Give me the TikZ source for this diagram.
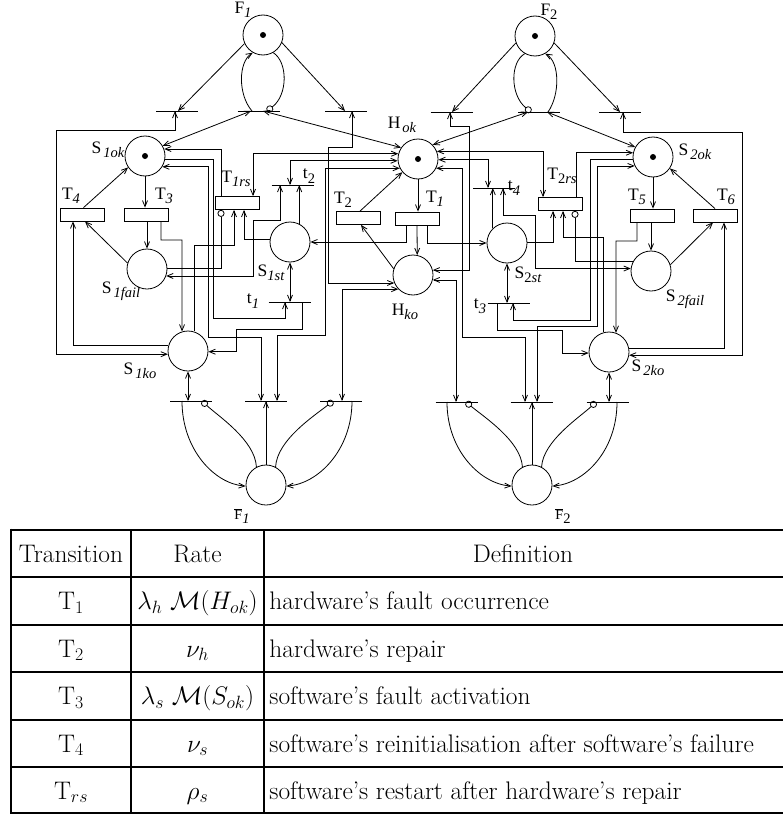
\RequirePackage{fix-cm}
\documentclass[tikz,border=0pt]{standalone}
\usepackage{fontspec}
\newfontfamily\tms{Liberation Serif}
\usetikzlibrary{arrows.meta}
\newcommand{\lsub}[1]{\raisebox{-4.5pt}{\fontsize{14.5}{14.5}\selectfont #1}}

\begin{document}
\begin{tikzpicture}[x=1pt,y=-1pt,line width=0.8pt,>={Straight Barb[length=6pt,width=5pt]},
  place/.style={draw,circle,minimum size=40pt,inner sep=0pt},
  trans/.style={draw,rectangle,minimum width=44pt,minimum height=13pt,inner sep=0pt},
  imm/.style={minimum width=42pt,minimum height=0pt,inner sep=0pt,outer sep=0pt},
  inhib/.style={-{Circle[open,length=7pt]}},
  lbl/.style={inner sep=0pt,font=\tms\fontsize{17.5}{19}\selectfont},
  cell/.style={inner sep=0pt,text height=21pt,text depth=4pt,font=\fontsize{25.4}{30}\selectfont}]
  \useasboundingbox (0,0) rectangle (782,816);

  % places
  \node[place] (F1) at (263,35) {};
  \node[place] (F2) at (535,36) {};
  \node[place] (S1ok) at (145,156) {};
  \node[place] (Hok) at (418,159) {};
  \node[place] (S2ok) at (653,157) {};
  \node[place] (S1fail) at (147,269) {};
  \node[place] (S1st) at (290,242) {};
  \node[place] (Hko) at (413,275) {};
  \node[place] (S2st) at (507,243) {};
  \node[place] (S2fail) at (651,271) {};
  \node[place] (S1ko) at (188,351) {};
  \node[place] (S2ko) at (609,352) {};
  \node[place] (F1b) at (266,485) {};
  \node[place] (F2b) at (532,485) {};
  \foreach \p in {F1,F2,S1ok,Hok,S2ok} \fill (\p) circle (3pt);

  % timed transitions
  \node[trans] (T4) at (82.5,214.5) {};
  \node[trans] (T3) at (146,214.5) {};
  \node[trans] (T1rs) at (237.5,203) {};
  \node[trans] (T2) at (358.5,218) {};
  \node[trans] (T1) at (417,218.5) {};
  \node[trans] (T2rs) at (560.5,204) {};
  \node[trans] (T5) at (652,215.5) {};
  \node[trans] (T6) at (715,215.5) {};

  % immediate transitions
  \node[imm] (f1a) at (177,111) {};
  \node[imm] (f1m) at (258.5,111) {};
  \node[imm] (f1c) at (346,111) {};
  \node[imm] (f2a) at (451.5,112) {};
  \node[imm] (f2m) at (539,112) {};
  \node[imm] (f2c) at (620,112) {};
  \node[imm] (t2) at (292.5,185) {};
  \node[imm] (t1) at (289.5,302) {};
  \node[imm] (t4) at (494,188) {};
  \node[imm] (t3) at (508.5,303) {};
  \node[imm] (b1a) at (191,401) {};
  \node[imm] (b1m) at (266,401) {};
  \node[imm] (b1c) at (341,401) {};
  \node[imm] (b2a) at (456.5,402) {};
  \node[imm] (b2m) at (531.5,402) {};
  \node[imm] (b2c) at (607.5,402) {};
  \foreach \b in {f1a,f1m,f1c,f2a,f2m,f2c,t1,t2,t3,t4,b1a,b1m,b1c,b2a,b2m,b2c}
    \draw[line width=1pt] (\b.west) -- (\b.east);

  % F1 on top
  \draw[->] (F1.205) -- ([xshift=1pt]f1a.center);
  \draw[->] (F1.-22) -- ([xshift=-1pt]f1c.center);
  \draw[->] ([xshift=-6.5pt]f1m.center) .. controls (238,95) and (238,62) .. (F1.240);
  \draw[inhib] (F1.300) .. controls (288,62) and (288,95) .. ([xshift=8.5pt]f1m.center);
  \draw[<->] ([xshift=-7.5pt]f1m.center) -- (S1ok.30);
  \draw[<->] ([xshift=4.5pt]f1m.center) -- (Hok.146);
  \draw[<->] ([xshift=-2pt]f1a.center) |- (56,130) |- (S1ko.189);
  \draw[<->] ([xshift=6pt]f1c.center) |- (328,147) |- (Hko.203);

  % F2 on top
  \draw[->] (F2.200) -- ([xshift=0.5pt]f2a.center);
  \draw[->] (F2.-20) -- (f2c.center);
  \draw[inhib] (F2.240) .. controls (510,62) and (510,95) .. ([xshift=-8pt]f2m.center);
  \draw[->] ([xshift=9pt]f2m.center) .. controls (560,95) and (560,62) .. (F2.300);
  \draw[<->] ([xshift=-11pt]f2m.center) -- (Hok.44);
  \draw[<->] ([xshift=8pt]f2m.center) -- (S2ok.151);
  \draw[<->] ([xshift=-1.5pt]f2a.center) |- (469,126) |- (Hko.14);
  \draw[<->] ([xshift=3pt]f2c.center) |- (742,132) |- (S2ko.-9);

  % software 1
  \draw[->] (S1ok.south) -- (S1ok.south |- T3.north);
  \draw[->] (T3.south -| S1fail.north) -- (S1fail.north);
  \draw[->] ([xshift=1pt]T4.north) -- (S1ok.214);
  \draw[->] (S1fail.163) -- ([xshift=2.5pt]T4.south);
  \draw[->] (S1ko.163) -| ([xshift=-9.5pt]T4.south);
  \draw[->] ([xshift=15pt]T3.south) |- (182,240) -- (S1ko.107);
  \draw[->] (S1ko.73) |- (234,245) -- ([xshift=-3.5pt]T1rs.south);
  \draw[inhib] (S1fail.3) -| ([xshift=-16.5pt]T1rs.south);
  \draw[<->] ([xshift=-12.5pt]t2.center) |- (253,220) |- (S1fail.-20);
  \draw[->] (S1st.63) -- (S1st.63 |- t2.center);
  \draw[<->] (Hok.185) -| ([xshift=-2.5pt]t2.center);
  \draw[<->] (Hok.165) -| ([xshift=15.5pt]T1rs.north);
  \draw[<->] (Hok.207) -| (325,335) -| ([xshift=11pt]b1m.center);
  \draw[->] ([xshift=-16.5pt]T1rs.north) |- (S1ok.20);
  \draw[->] (S1ok.-10) -| (213,318) -| ([xshift=-4.5pt]t1.center);
  \draw[<->] (S1ok.-32) -| (208,337) -| ([xshift=-5pt]b1m.center);
  \draw[<->] (S1st.south) -- (S1st.south |- t1.center);
  \draw[->] (S1st.174) -| ([xshift=6.5pt]T1rs.south);
  \draw[->] ([xshift=12.5pt]t1.center) |- (236,329) |- (S1ko.-2);
  \draw[<->] (S1ko.south) -- (S1ko.south |- b1a.center);
  \draw[<->] (Hko.224) -| ([xshift=1pt]b1c.center);

  % hardware
  \draw[->] (Hok.south) -- (Hok.south |- T1.north);
  \draw[->] ([xshift=1.5pt]T2.north) -- (Hok.220);
  \draw[->] (Hko.162) -- ([xshift=2.5pt]T2.south);
  \draw[->] ([xshift=-11pt]T1.south) |- (S1st.east);
  \draw[->] (T1.south) -- (Hko.78);
  \draw[->] ([xshift=10pt]T1.south) |- (S2st.west);
  \draw[<->] (Hko.-14) -| ([xshift=-0.5pt]b2a.center);

  % software 2
  \draw[->] (S2ok.south) -- (S2ok.south |- T5.north);
  \draw[->] (T5.south -| S2fail.north) -- (S2fail.north);
  \draw[->] (S2fail.18) -- ([xshift=-2pt]T6.south);
  \draw[->] (T6.north) -- (S2ok.-34);
  \draw[->] (S2ko.10) -| ([xshift=9pt]T6.south);
  \draw[->] ([xshift=-15pt]T5.south) |- (616,241) -- (S2ko.70);
  \draw[->] ([xshift=15.5pt]T2rs.north) |- (S2ok.168);
  \draw[<->] (Hok.22) -| ([xshift=-17.5pt]T2rs.north);
  \draw[<->] (Hok.-2) -| ([xshift=-6pt]t4.center);
  \draw[<->] (Hok.-27) -| (462,337) -| ([xshift=-6.5pt]b2m.center);
  \draw[->] (S2ok.186) -| (590,320) -| ([xshift=4.5pt]t3.center);
  \draw[<->] (S2ok.206) -| (597,326) -| ([xshift=5.5pt]b2m.center);
  \draw[->] (S2st.3) -| ([xshift=-7.5pt]T2rs.south);
  \draw[->] (S2ko.107) |- (563,237) -- ([xshift=2.5pt]T2rs.south);
  \draw[inhib] (S2fail.153) -| ([xshift=14.5pt]T2rs.south);
  \draw[<->] ([xshift=9pt]t4.center) |- (535,215) |- (S2fail.173);
  \draw[->] (S2st.134) -- (S2st.134 |- t4.center);
  \draw[<->] (S2st.south) -- (S2st.south |- t3.center);
  \draw[->] ([xshift=-11.5pt]t3.center) |- (562,330) |- (S2ko.183);
  \draw[<->] (S2ko.south) -- (S2ko.south |- b2c.center);

  % F1 bar and F2 bar at the bottom
  \draw[->] (F1b.north) -- (F1b.north |- b1m.center);
  \draw[->] ([xshift=-9pt]b1a.center) .. controls (182,450) and (215,484) .. (F1b.183);
  \draw[inhib] (F1b.118) .. controls (255,440) and (218,416) .. ([xshift=11pt]b1a.center);
  \draw[inhib] (F1b.62) .. controls (277,440) and (314,416) .. ([xshift=-8pt]b1c.center);
  \draw[->] ([xshift=11pt]b1c.center) .. controls (352,450) and (318,484) .. (F1b.-3);
  \draw[->] (F2b.north) -- (F2b.north |- b2m.center);
  \draw[->] ([xshift=-9.5pt]b2a.center) .. controls (447,451) and (481,484) .. (F2b.183);
  \draw[inhib] (F2b.118) .. controls (521,441) and (484,417) .. ([xshift=9.5pt]b2a.center);
  \draw[inhib] (F2b.62) .. controls (543,441) and (580,417) .. ([xshift=-11.5pt]b2c.center);
  \draw[->] ([xshift=9.5pt]b2c.center) .. controls (617,451) and (584,484) .. (F2b.-3);

  % labels
  \node[lbl] (lF1) at (243,10) {F\lsub{\itshape 1}};
  \node[lbl] (lF2) at (549,12) {F\lsub{2}};
  \node[lbl] (lS1ok) at (108,150) {S\hspace{2pt}\lsub{\itshape 1ok}};
  \node[lbl] (lT4) at (71,196) {T\lsub{\itshape 4}};
  \node[lbl] (lT3) at (164,196) {T\lsub{\itshape 3}};
  \node[lbl] (lS1fail) at (121,291) {S\hspace{2pt}\lsub{\itshape 1fail}};
  \node[lbl] (lS1ko) at (140,371) {S\hspace{2pt}\lsub{\itshape 1ko}};
  \node[lbl] (lT1rs) at (236,179) {T\lsub{\itshape 1rs}};
  \node[lbl] (lt2) at (309,176) {t\lsub{2}};
  \node[lbl] (lS1st) at (271,273) {S\lsub{\itshape 1st}};
  \node[lbl] (lt1) at (253,301) {t\lsub{\itshape 1}};
  \node[lbl] (lT2) at (343,200) {T\lsub{2}};
  \node[lbl] (lT1) at (435,199) {T\lsub{\itshape 1}};
  \node[lbl] (lHok) at (402,125) {H\hspace{2pt}\lsub{\itshape ok}};
  \node[lbl] (lt4) at (514,188) {t\lsub{\itshape 4}};
  \node[lbl] (lT2rs) at (562,176) {T\lsub{2\itshape rs}};
  \node[lbl] (lS2st) at (528,275) {S\lsub{2\itshape st}};
  \node[lbl] (lHko) at (405,312) {H\lsub{\itshape ko}};
  \node[lbl] (lt3) at (480,306) {t\lsub{\itshape 3}};
  \node[lbl] (lT5) at (637,197) {T\lsub{\itshape 5}};
  \node[lbl] (lT6) at (726,197) {T\lsub{\itshape 6}};
  \node[lbl] (lS2ok) at (695,152) {S\hspace{2pt}\lsub{\itshape 2ok}};
  \node[lbl] (lS2fail) at (685,299) {S\hspace{2pt}\lsub{\itshape 2fail}};
  \node[lbl] (lS2ko) at (648,368) {S\hspace{2pt}\lsub{\itshape 2ko}};
  \node[lbl,font=\tms\fontsize{14}{16}\selectfont] (lF1b) at (242,516) {$\overline{\hbox{F}}$\lsub{\itshape 1}};
  \node[lbl,font=\tms\fontsize{14}{16}\selectfont] (lF2b) at (563,516) {$\overline{\hbox{F}}$\lsub{2}};

  % table
  \draw[line width=2.6pt] (11,530) -- (790,530);
  \draw[line width=2.6pt] (11,813) -- (790,813);
  \draw[line width=2.6pt] (11,528.7) -- (11,814.3);
  \foreach \y in {577,625,672,720,767} \draw[line width=1.7pt] (11,\y) -- (790,\y);
  \foreach \x in {131,264} \draw[line width=1.7pt] (\x,530) -- (\x,813);
  \node[cell] (hTr) at (71,553.5) {Transition};
  \node[cell] (hRt) at (197.5,553.5) {Rate};
  \node[cell] (hDf) at (523,553.5) {Definition};
  \foreach \y/\tr/\rt/\df [count=\i] in {
      601/T$_1$/$\lambda_h\ \mathcal{M}(H_{ok})$/hardware's fault occurrence,
      648.5/T$_2$/$\nu_h$/hardware's repair,
      696/T$_3$/$\lambda_s\ \mathcal{M}(S_{ok})$/software's fault activation,
      743.5/T$_4$/$\nu_s$/software's reinitialisation after software's failure,
      790.5/T$_{rs}$/$\rho_s$/software's restart after hardware's repair}{
    \node[cell] (tr\i) at (71,\y) {\tr};
    \node[cell] (rt\i) at (197.5,\y) {\rt};
    \node[cell,anchor=west] (df\i) at (269,\y) {\df};
  }
\end{tikzpicture}
\end{document}
